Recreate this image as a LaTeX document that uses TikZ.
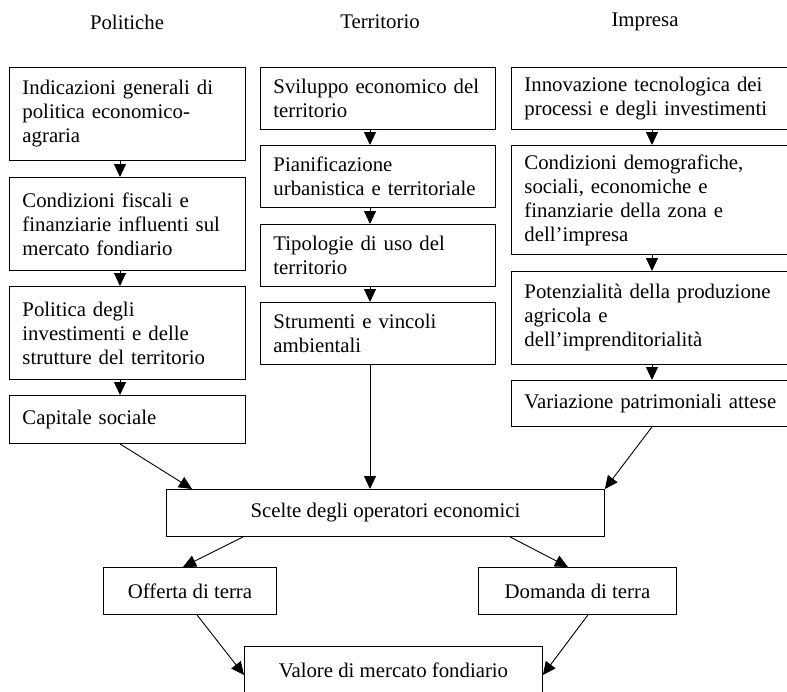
\documentclass[tikz,border=0pt]{standalone}
\usepackage{fontspec}
\setmainfont{Liberation Serif}
\usetikzlibrary{arrows.meta}

\begin{document}
\begin{tikzpicture}[x=1pt,y=-1pt,
  txt/.style={font=\fontsize{20.8}{24}\selectfont},
  cell/.style={txt,draw,line width=0.9pt,anchor=north west,align=left,inner xsep=13pt,inner ysep=0pt},
  mid/.style={txt,draw,line width=0.9pt,anchor=north west,align=center,inner sep=0pt},
  arr/.style={-{Triangle[length=13pt,width=12pt]},line width=0.9pt}]
\useasboundingbox (0,0) rectangle (787,691);
\fill[white] (0,0) rectangle (787,691);
\clip (0,0) rectangle (787,691);
% column headings
\node[txt] (hPol) at (127,22) {Politiche};
\node[txt] (hTer) at (380,22) {Territorio};
\node[txt] (hImp) at (645,22) {Impresa};
% arrow lines of the columns
\coordinate (colL) at (120,0);
\coordinate (colM) at (370,0);
\coordinate (colR) at (652,0);
% Politiche
\node[cell,text width=210pt,minimum height=93pt] (L1) at (9,67) {Indicazioni generali di\\politica economico-\\agraria};
\node[cell,text width=210pt,minimum height=93pt] (L2) at (9,177) {Condizioni fiscali e\\finanziarie influenti sul\\mercato fondiario};
\node[cell,text width=210pt,minimum height=93pt] (L3) at (9,286) {Politica degli\\investimenti e delle\\strutture del territorio};
\node[cell,text width=210pt,minimum height=48pt] (L4) at (9,395) {Capitale sociale};
% Territorio
\node[cell,text width=209pt,minimum height=62pt] (M1) at (260,67) {Sviluppo economico del\\territorio};
\node[cell,text width=209pt,minimum height=62pt] (M2) at (260,145) {Pianificazione\\urbanistica e territoriale};
\node[cell,text width=209pt,minimum height=62pt] (M3) at (260,224) {Tipologie di uso del\\territorio};
\node[cell,text width=209pt,minimum height=62pt] (M4) at (260,302) {Strumenti e vincoli\\ambientali};
% Impresa
\node[cell,text width=256pt,minimum height=62pt] (R1) at (511,67) {Innovazione tecnologica dei\\processi e degli investimenti};
\node[cell,text width=256pt,minimum height=109pt] (R2) at (511,145) {Condizioni demografiche,\\sociali, economiche e\\finanziarie della zona e\\dell’impresa};
\node[cell,text width=256pt,minimum height=93pt] (R3) at (511,271) {Potenzialità della produzione\\agricola e\\dell’imprenditorialità};
\node[cell,text width=256pt,minimum height=46pt] (R4) at (511,380) {Variazione patrimoniali attese};
% lower part
\node[mid,minimum width=438pt,minimum height=47pt] (scelte) at (166,489) {Scelte degli operatori economici};
\node[mid,minimum width=173pt,minimum height=47pt] (offerta) at (103,567) {Offerta di terra};
\node[mid,minimum width=198pt,minimum height=47pt] (domanda) at (478,567) {Domanda di terra};
\node[mid,minimum width=298pt,minimum height=47pt] (valore) at (244,646) {Valore di mercato fondiario};

\draw[arr] (L1.south -| colL) -- (L2.north -| colL);
\draw[arr] (L2.south -| colL) -- (L3.north -| colL);
\draw[arr] (L3.south -| colL) -- (L4.north -| colL);
\draw[arr] (M1.south -| colM) -- (M2.north -| colM);
\draw[arr] (M2.south -| colM) -- (M3.north -| colM);
\draw[arr] (M3.south -| colM) -- (M4.north -| colM);
\draw[arr] (R1.south -| colR) -- (R2.north -| colR);
\draw[arr] (R2.south -| colR) -- (R3.north -| colR);
\draw[arr] (R3.south -| colR) -- (R4.north -| colR);

\draw[arr] (L4.south -| colL) -- ([xshift=26pt]scelte.north west);
\draw[arr] (M4.south -| colM) -- (scelte.north -| colM);
\draw[arr] (R4.south -| colR) -- (scelte.north east);
\draw[arr] ([xshift=77pt]scelte.south west) -- ([xshift=80pt]offerta.north west);
\draw[arr] ([xshift=344pt]scelte.south west) -- ([xshift=90pt]domanda.north west);
\draw[arr] ([xshift=94pt]offerta.south west) -- ([yshift=-29pt]valore.north west);
\draw[arr] ([xshift=110pt]domanda.south west) -- ([yshift=-29pt]valore.north east);
\end{tikzpicture}
\end{document}
